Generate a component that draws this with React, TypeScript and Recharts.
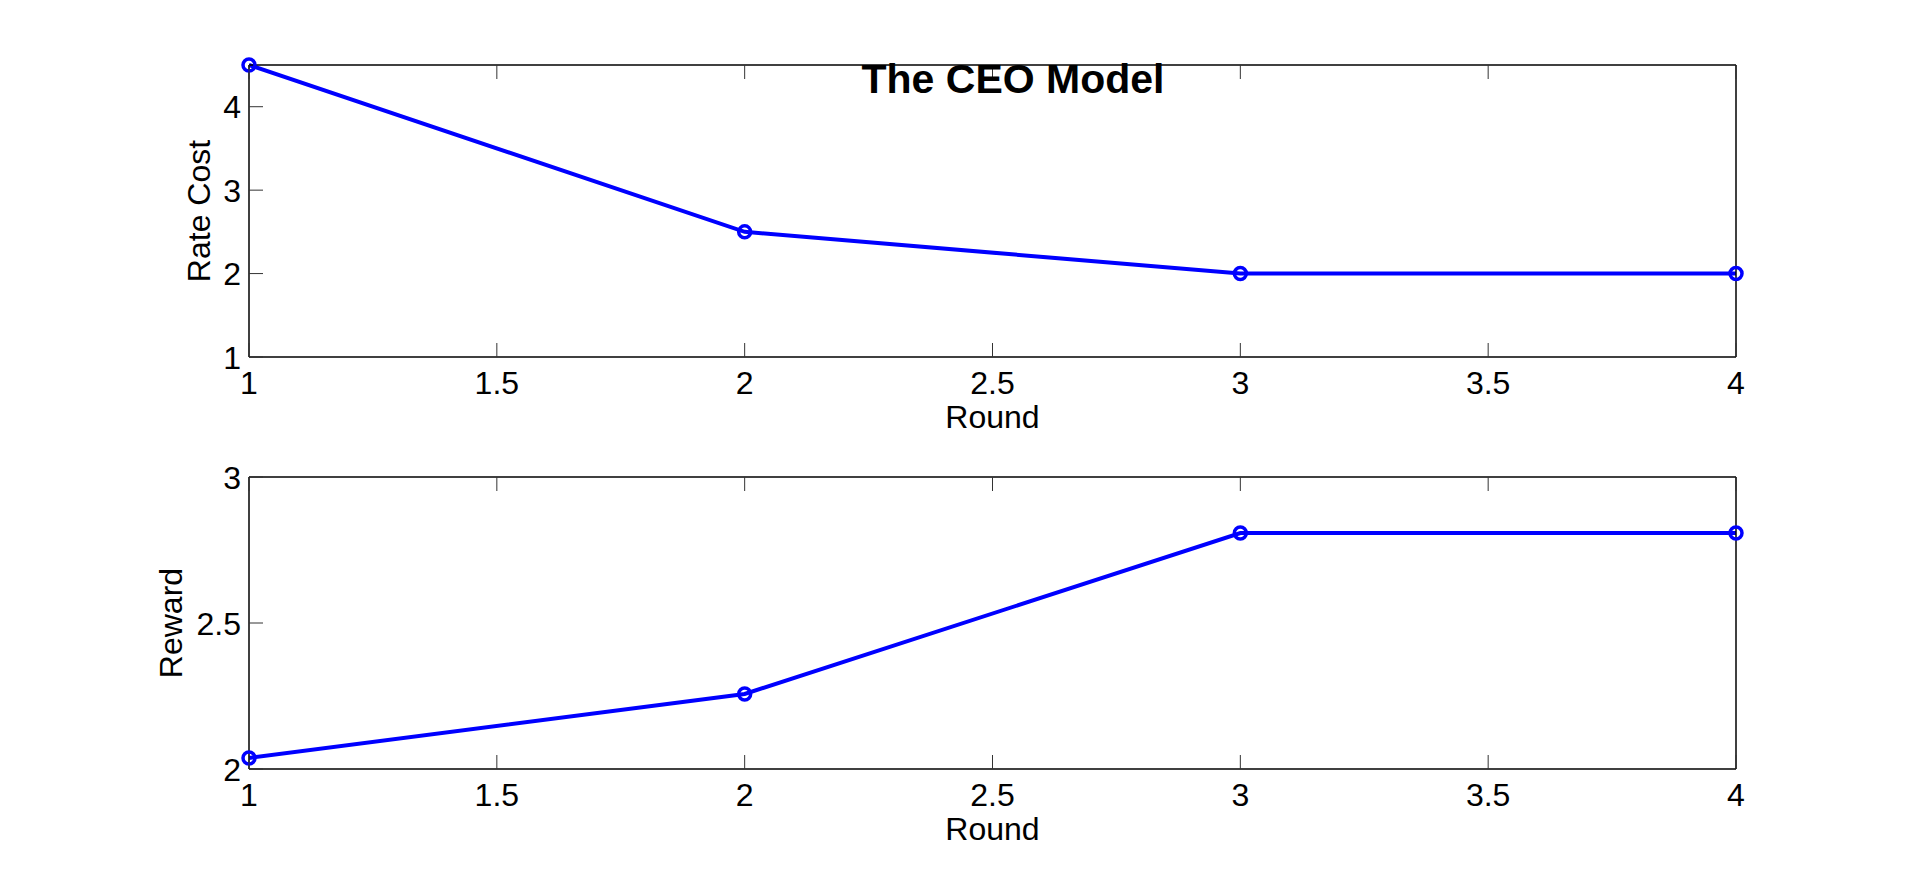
import React from 'react';
import { LineChart, Line, XAxis, YAxis, Label } from 'recharts';

const rounds = [1, 2, 3, 4];
const rateCost = [4.5, 2.5, 2, 2];
const reward = [2.038, 2.257, 2.808, 2.808];
const xTicks = [1, 1.5, 2, 2.5, 3, 3.5, 4];
const rateTicks = [1, 2, 3, 4];
const rewardTicks = [2, 2.5, 3];

const topData = rounds.map((r, i) => ({ round: r, v: rateCost[i] }));
const bottomData = rounds.map((r, i) => ({ round: r, v: reward[i] }));

const FONT = '"Liberation Sans", Arial, Helvetica, sans-serif';
const TICK_LEN = 14;
const TICK_COLOR = '#333';

const BottomTick = (props: any) => {
  const { x, y, payload } = props;
  return (
    <g>
      <line x1={x} y1={y} x2={x} y2={y - TICK_LEN} stroke={TICK_COLOR} strokeWidth={1} />
      <text x={x} y={y + 37} textAnchor="middle" fontFamily={FONT} fontSize={32} fill="#000">
        {String(payload.value)}
      </text>
    </g>
  );
};
const TopTick = (props: any) => {
  const { x, y } = props;
  return <line x1={x} y1={y} x2={x} y2={y + TICK_LEN} stroke={TICK_COLOR} strokeWidth={1} />;
};
const LeftTick = (props: any) => {
  const { x, y, payload } = props;
  return (
    <g>
      <line x1={x} y1={y} x2={x + TICK_LEN} y2={y} stroke={TICK_COLOR} strokeWidth={1} />
      <text x={x - 8} y={y + 11.5} textAnchor="end" fontFamily={FONT} fontSize={32} fill="#000">
        {String(payload.value)}
      </text>
    </g>
  );
};
const RightTick = (props: any) => {
  const { x, y } = props;
  return <line x1={x} y1={y} x2={x - TICK_LEN} y2={y} stroke={TICK_COLOR} strokeWidth={1} />;
};

const xLabel = (text: string) => (props: any) => {
  const vb = props.viewBox;
  return (
    <text x={vb.x + vb.width / 2} y={vb.y + 71} textAnchor="middle" fontFamily={FONT} fontSize={32} fill="#000">
      {text}
    </text>
  );
};
const yLabel = (text: string, bx: number) => (props: any) => {
  const vb = props.viewBox;
  const cy = vb.y + vb.height / 2;
  return (
    <text x={bx} y={cy} transform={`rotate(-90, ${bx}, ${cy})`} textAnchor="middle" fontFamily={FONT} fontSize={32} fill="#000">
      {text}
    </text>
  );
};

const axisLine = { stroke: '#000', strokeWidth: 1.5 };

function Panel(props: {
  data: any[];
  height: number;
  topH: number;
  botH: number;
  yDomain: [number, number];
  yTicks: number[];
  yName: string;
  yLabelX: number;
}) {
  const { data, height, topH, botH, yDomain, yTicks, yName, yLabelX } = props;
  return (
    <LineChart width={1917} height={height} data={data} margin={{ top: 0, right: 0, bottom: 0, left: 0 }}>
      <XAxis
        type="number"
        dataKey="round"
        domain={[1, 4]}
        ticks={xTicks}
        interval={0}
        height={botH}
        tickSize={0}
        tickMargin={0}
        tickLine={false}
        axisLine={axisLine}
        tick={<BottomTick />}
      >
        <Label content={xLabel('Round')} />
      </XAxis>
      <XAxis
        xAxisId="top"
        orientation="top"
        type="number"
        dataKey="round"
        domain={[1, 4]}
        ticks={xTicks}
        interval={0}
        height={topH}
        tickSize={0}
        tickMargin={0}
        tickLine={false}
        axisLine={axisLine}
        tick={<TopTick />}
      />
      <YAxis
        type="number"
        domain={yDomain}
        ticks={yTicks}
        interval={0}
        width={249}
        tickSize={0}
        tickMargin={0}
        tickLine={false}
        axisLine={axisLine}
        tick={<LeftTick />}
      >
        <Label content={yLabel(yName, yLabelX)} />
      </YAxis>
      <YAxis
        yAxisId="right"
        orientation="right"
        type="number"
        domain={yDomain}
        ticks={yTicks}
        interval={0}
        width={181}
        tickSize={0}
        tickMargin={0}
        tickLine={false}
        axisLine={axisLine}
        tick={<RightTick />}
      />
      <Line
        type="linear"
        dataKey="v"
        stroke="#0000ff"
        strokeWidth={4}
        dot={{ r: 6, stroke: '#0000ff', strokeWidth: 3.5, fill: 'none' }}
        activeDot={false}
        isAnimationActive={false}
      />
    </LineChart>
  );
}

export default function App() {
  return (
    <div style={{ position: 'absolute', left: 0, top: 0, width: 1917, height: 869, background: '#fff' }}>
      <div style={{ position: 'absolute', left: 0, top: 0 }}>
        <Panel data={topData} height={440} topH={65} botH={83} yDomain={[1, 4.5]} yTicks={rateTicks} yName="Rate Cost" yLabelX={210} />
      </div>
      <div style={{ position: 'absolute', left: 0, top: 440 }}>
        <Panel data={bottomData} height={429} topH={37} botH={100} yDomain={[2, 3]} yTicks={rewardTicks} yName="Reward" yLabelX={182} />
      </div>
      <svg width={1917} height={120} style={{ position: 'absolute', left: 0, top: 0, pointerEvents: 'none' }}>
        <text x={1013} y={93} textAnchor="middle" fontFamily={FONT} fontWeight="bold" fontSize={41} fill="#000">
          The CEO Model
        </text>
      </svg>
    </div>
  );
}
